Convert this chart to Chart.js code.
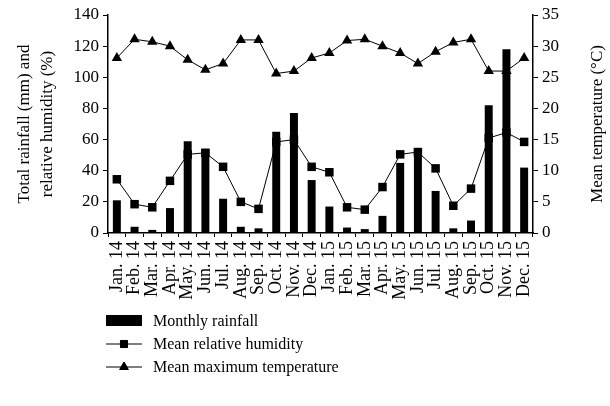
<!DOCTYPE html>
<html>
<head>
<meta charset="utf-8">
<script src="https://cdn.jsdelivr.net/npm/chart.js@4/dist/chart.umd.min.js"></script>
<style>
  html, body { margin: 0; padding: 0; background: #fff; }
  #wrap { width: 610px; height: 406px; }
</style>
</head>
<body>
<div id="wrap"><canvas id="climateChart"></canvas></div>
<script>
const months = [
    'Jan. 14', 'Feb. 14', 'Mar. 14', 'Apr. 14', 'May. 14', 'Jun. 14', 'Jul. 14', 'Aug. 14', 'Sep. 14', 'Oct. 14', 'Nov. 14', 'Dec. 14',
    'Jan. 15', 'Feb. 15', 'Mar. 15', 'Apr. 15', 'May. 15', 'Jun. 15', 'Jul. 15', 'Aug. 15', 'Sep. 15', 'Oct. 15', 'Nov. 15', 'Dec. 15'
];
const rainfall = [21, 4, 2, 16, 59, 54, 22, 4, 3, 65, 77, 34, 17, 3.5, 2.5, 11, 45, 53, 27, 3, 8, 82, 118, 42];
const humidity = [34.5, 18.5, 16.5, 33.5, 50.5, 51.5, 42.5, 20, 15.5, 58.5, 60, 42.5, 39, 16.5, 15, 29.5, 50.5, 52, 41.5, 17.5, 28.5, 61, 64.5, 58.5];
const maxTemp = [28.1, 31.1, 30.7, 30.0, 27.8, 26.2, 27.2, 31.0, 31.0, 25.6, 26.0, 28.1, 28.9, 30.9, 31.1, 30.0, 28.9, 27.2, 29.1, 30.6, 31.1, 26.0, 26.0, 28.1];
const rightTitle = 'Mean temperature (°C)';

const serif = '"Liberation Serif", "DejaVu Serif", serif';
Chart.defaults.font.family = serif;
Chart.defaults.color = '#000';

// legend stacked under the axis, like the original figure
// (also the right title, which reads bottom-to-top in the original)
const stackedLegend = {
    id: 'stackedLegend',
    afterDraw(chart) {
        const c = chart.ctx;
        const rows = [321, 344, 367];
        c.save();
        c.fillStyle = '#000';
        c.strokeStyle = '#000';
        c.font = '16px ' + serif;
        c.textBaseline = 'middle';
        chart.data.datasets.forEach((ds, i) => {
            const y = rows[i];
            if (ds.type === 'bar') {
                c.fillRect(106, y - 6, 36, 11);
            } else {
                c.lineWidth = 1;
                c.beginPath();
                c.moveTo(106, y);
                c.lineTo(142, y);
                c.stroke();
                Chart.helpers.drawPoint(c, { pointStyle: ds.pointStyle, radius: ds.pointRadius - 1, rotation: 0, borderWidth: 1 }, 124, y);
                c.fill();
            }
            c.fillText(ds.label, 153, y + 1);
        });

        const area = chart.chartArea;
        c.translate(598, (area.top + area.bottom) / 2);
        c.rotate(-Math.PI / 2);
        c.font = '17px ' + serif;
        c.textAlign = 'center';
        c.fillText(rightTitle, 0, 0);
        c.restore();
    }
};

const ctx = document.getElementById('climateChart').getContext('2d');
new Chart(ctx, {
    data: {
        labels: months,
        datasets: [
            {
                type: 'bar',
                label: 'Monthly rainfall',
                data: rainfall,
                backgroundColor: '#000',
                barPercentage: 0.45,
                categoryPercentage: 1,
                yAxisID: 'y',
                order: 3
            },
            {
                type: 'line',
                label: 'Mean relative humidity',
                data: humidity,
                borderColor: '#000',
                borderWidth: 1,
                backgroundColor: '#000',
                pointStyle: 'rect',
                pointRadius: 6,
                pointBorderWidth: 0,
                tension: 0,
                yAxisID: 'y',
                order: 1
            },
            {
                type: 'line',
                label: 'Mean maximum temperature',
                data: maxTemp,
                borderColor: '#000',
                borderWidth: 1,
                backgroundColor: '#000',
                pointStyle: 'triangle',
                pointRadius: 6,
                pointBorderWidth: 0,
                tension: 0,
                yAxisID: 'y1',
                order: 2
            }
        ]
    },
    options: {
        responsive: true,
        maintainAspectRatio: false,
        animation: false,
        layout: { padding: { top: 15, bottom: 100 } },
        plugins: {
            legend: { display: false },
            tooltip: { enabled: false }
        },
        scales: {
            x: {
                grid: { display: true, drawOnChartArea: false, offset: true, color: '#000', tickLength: 4 },
                border: { color: '#000', width: 1.5 },
                ticks: { minRotation: 90, maxRotation: 90, autoSkip: false, font: { size: 18 }, padding: 4 },
                afterFit(scale) { scale.height = 73; }
            },
            y: {
                position: 'left',
                min: 0,
                max: 140,
                ticks: { stepSize: 20, font: { size: 17 }, padding: 4 },
                grid: { drawOnChartArea: false, color: '#000', tickLength: 5 },
                border: { color: '#000', width: 1.5 },
                title: { display: true, text: ['Total rainfall (mm) and', 'relative humidity (%)'], font: { size: 17, lineHeight: 1.35 }, padding: { top: 13, bottom: 0 } },
                afterFit(scale) { scale.width = 108; }
            },
            y1: {
                position: 'right',
                min: 0,
                max: 35,
                ticks: { stepSize: 5, font: { size: 17 }, padding: 4 },
                grid: { drawOnChartArea: false, color: '#000', tickLength: 5 },
                border: { color: '#000', width: 1.5 },
                afterFit(scale) { scale.width = 77; }
            }
        }
    },
    plugins: [stackedLegend]
});
</script>
</body>
</html>
